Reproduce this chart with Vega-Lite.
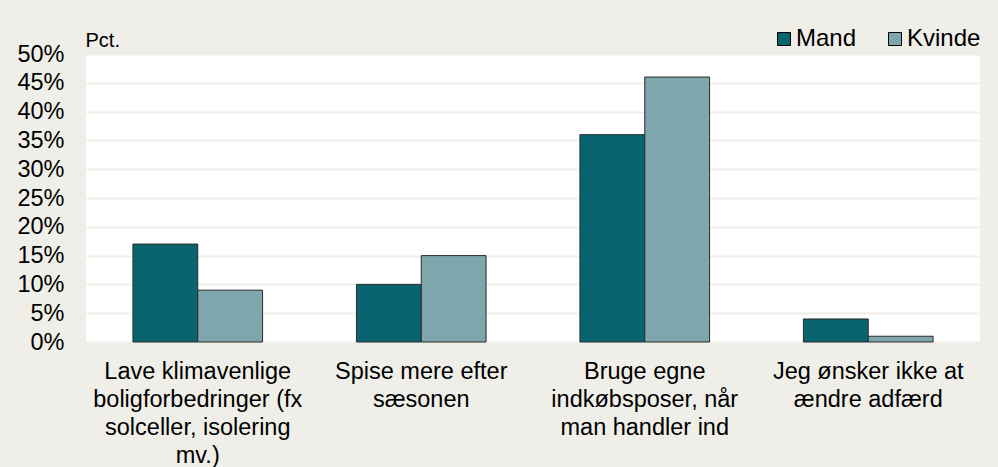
{
  "$schema": "https://vega.github.io/schema/vega-lite/v6.json",
  "width": 894,
  "height": 288,
  "autosize": {"type": "none"},
  "padding": {"left": 86, "top": 54, "right": 18, "bottom": 125},
  "background": "#efeee8",
  "config": {
    "font": "Liberation Sans",
    "view": {"fill": "white", "stroke": null}
  },
  "data": {
    "values": [
      {"kategori": "Lave klimavenlige\nboligforbedringer (fx\nsolceller, isolering\nmv.)", "koen": "Mand", "andel": 0.17},
      {"kategori": "Lave klimavenlige\nboligforbedringer (fx\nsolceller, isolering\nmv.)", "koen": "Kvinde", "andel": 0.09},
      {"kategori": "Spise mere efter\nsæsonen", "koen": "Mand", "andel": 0.10},
      {"kategori": "Spise mere efter\nsæsonen", "koen": "Kvinde", "andel": 0.15},
      {"kategori": "Bruge egne\nindkøbsposer, når\nman handler ind", "koen": "Mand", "andel": 0.36},
      {"kategori": "Bruge egne\nindkøbsposer, når\nman handler ind", "koen": "Kvinde", "andel": 0.46},
      {"kategori": "Jeg ønsker ikke at\nændre adfærd", "koen": "Mand", "andel": 0.04},
      {"kategori": "Jeg ønsker ikke at\nændre adfærd", "koen": "Kvinde", "andel": 0.01}
    ]
  },
  "mark": {"type": "bar", "stroke": "#2a2a2a", "strokeWidth": 1},
  "encoding": {
    "x": {
      "field": "kategori",
      "type": "nominal",
      "sort": null,
      "scale": {"paddingInner": 0.42, "paddingOuter": 0.21},
      "axis": {
        "title": null,
        "labelAngle": 0,
        "labelExpr": "split(datum.label, '\\n')",
        "labelFontSize": 23.5,
        "labelColor": "#000000",
        "labelLineHeight": 28,
        "labelPadding": 17,
        "labelBaseline": "top",
        "labelLimit": 400,
        "ticks": false,
        "domain": false
      }
    },
    "xOffset": {"field": "koen", "type": "nominal", "sort": ["Mand", "Kvinde"]},
    "y": {
      "field": "andel",
      "type": "quantitative",
      "scale": {"domain": [0, 0.5], "nice": false},
      "axis": {
        "title": "Pct.",
        "titleAngle": 0,
        "titleX": -1,
        "titleY": -8,
        "titleAlign": "left",
        "titleBaseline": "alphabetic",
        "titleFontSize": 20,
        "titleFontWeight": "normal",
        "titleColor": "#000000",
        "values": [0, 0.05, 0.1, 0.15, 0.2, 0.25, 0.3, 0.35, 0.4, 0.45, 0.5],
        "format": ".0%",
        "labelFontSize": 23.5,
        "labelColor": "#000000",
        "labelPadding": 22,
        "ticks": false,
        "domain": false,
        "grid": true,
        "gridColor": "#efeee8",
        "gridWidth": 2
      }
    },
    "color": {
      "field": "koen",
      "type": "nominal",
      "sort": ["Mand", "Kvinde"],
      "scale": {"domain": ["Mand", "Kvinde"], "range": ["#0a6470", "#7fa5ad"]},
      "legend": {
        "title": null,
        "orient": "none",
        "direction": "horizontal",
        "legendX": 686,
        "legendY": -27,
        "symbolType": "square",
        "symbolSize": 169,
        "symbolStrokeColor": "#000000",
        "symbolStrokeWidth": 1,
        "labelFontSize": 24,
        "labelColor": "#000000",
        "labelOffset": 0,
        "columnPadding": 26
      }
    }
  }
}
